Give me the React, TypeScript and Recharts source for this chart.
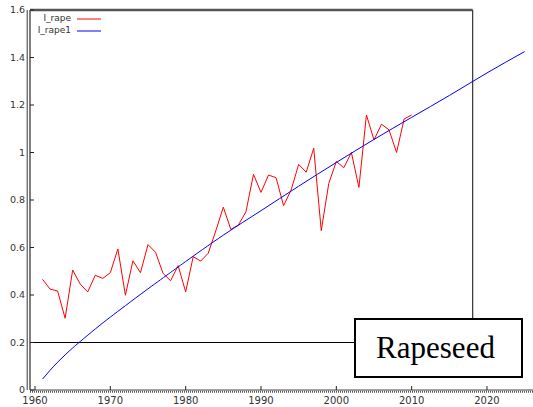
import React from 'react';
import { LineChart, Line, XAxis, YAxis, ReferenceLine } from 'recharts';

const YEARS = [
  1961, 1962, 1963, 1964, 1965, 1966, 1967, 1968, 1969, 1970,
  1971, 1972, 1973, 1974, 1975, 1976, 1977, 1978, 1979, 1980,
  1981, 1982, 1983, 1984, 1985, 1986, 1987, 1988, 1989, 1990,
  1991, 1992, 1993, 1994, 1995, 1996, 1997, 1998, 1999, 2000,
  2001, 2002, 2003, 2004, 2005, 2006, 2007, 2008, 2009, 2010,
];
const I_RAPE = [
  0.466, 0.425, 0.417, 0.302, 0.505, 0.446, 0.413, 0.483, 0.470, 0.494,
  0.594, 0.399, 0.544, 0.494, 0.612, 0.580, 0.491, 0.460, 0.524, 0.413,
  0.561, 0.543, 0.576, 0.670, 0.770, 0.676, 0.695, 0.750, 0.908, 0.832,
  0.905, 0.894, 0.776, 0.842, 0.950, 0.917, 1.018, 0.671, 0.870, 0.962,
  0.936, 1.000, 0.853, 1.158, 1.053, 1.119, 1.095, 1.000, 1.141, 1.158,
];
const FIT_YEARS = [1961, 1962, 1963, 1964, 1965, 1966, 1968, 1970, 1972, 1975, 1978, 1980, 1985, 1990, 1995, 2000, 2005, 2010, 2015, 2020, 2025];
const I_RAPE1 = [0.046, 0.083, 0.117, 0.148, 0.177, 0.204, 0.257, 0.307, 0.355, 0.426, 0.495, 0.541, 0.652, 0.755, 0.858, 0.958, 1.055, 1.148, 1.24, 1.335, 1.425];

const SERIES = [
  { name: 'I_rape', color: '#ff0000' },
  { name: 'I_rape1', color: '#0000ff' },
];

const X_TICKS = [1960, 1970, 1980, 1990, 2000, 2010, 2020];
const Y_TICKS = [0, 0.2, 0.4, 0.6, 0.8, 1, 1.2, 1.4, 1.6];

const X_MIN = 1959.336;
const X_MAX = 2026.11;
const FRAME_X = 2018.1;
const FRAME_Y = 0.2;

const rapeData = YEARS.map((year, i) => ({ year, value: I_RAPE[i] }));
const fitData = FIT_YEARS.map((year, i) => ({ year, value: I_RAPE1[i] }));

const FONT = '"DejaVu Sans", sans-serif';

const BottomTick = (props: any) => {
  const { x, y, payload } = props;
  return (
    <g>
      <line x1={x} x2={x} y1={y - 4} y2={y - 8} stroke="#222" strokeWidth={1} />
      <text x={x} y={y} dy={10} textAnchor="middle" fontSize={10} fill="#333" fontFamily={FONT}>
        {payload.value}
      </text>
    </g>
  );
};

const TopTick = (props: any) => {
  const { x, y } = props;
  return <line x1={x} x2={x} y1={y} y2={y + 4} stroke="#222" strokeWidth={1} />;
};

const LeftTick = (props: any) => {
  const { x, y, payload } = props;
  return (
    <g>
      <line x1={x + 5} x2={x + 9} y1={y} y2={y} stroke="#222" strokeWidth={1} />
      <text x={x} y={y} dy={3} textAnchor="end" fontSize={9.5} fill="#333" fontFamily={FONT}>
        {String(payload.value)}
      </text>
    </g>
  );
};

export default function App() {
  return (
    <div style={{ position: 'relative', width: 533, height: 407, background: '#fff' }}>
      <style>{'body{margin:0}'}</style>
      <LineChart width={533} height={407} margin={{ top: 10, right: 0, bottom: 0, left: 0 }}>
        <XAxis
          xAxisId="bottom"
          dataKey="year"
          type="number"
          domain={[X_MIN, X_MAX]}
          ticks={X_TICKS}
          allowDataOverflow
          height={17}
          tickSize={0}
          tickMargin={4}
          tick={<BottomTick />}
          axisLine={{ stroke: '#444', strokeWidth: 1 }}
        />
        <XAxis
          xAxisId="top"
          orientation="top"
          dataKey="year"
          type="number"
          domain={[X_MIN, X_MAX]}
          ticks={X_TICKS}
          allowDataOverflow
          height={0}
          tickSize={0}
          tickMargin={0}
          tick={<TopTick />}
          axisLine={{ stroke: '#444', strokeWidth: 1 }}
        />
        <YAxis
          type="number"
          domain={[0, 1.6]}
          ticks={Y_TICKS}
          width={30}
          tickSize={0}
          tickMargin={5}
          tick={<LeftTick />}
          axisLine={{ stroke: '#555', strokeWidth: 1.5 }}
        />
        <ReferenceLine xAxisId="bottom" x={X_MIN - 0.36} stroke="#777" strokeWidth={1.5} ifOverflow="visible" />
        <ReferenceLine xAxisId="bottom" y={-0.007} stroke="#555" strokeWidth={2} strokeDasharray="1 1" ifOverflow="visible" />
        <ReferenceLine
          xAxisId="bottom"
          segment={[{ x: X_MIN, y: 1.6 }, { x: FRAME_X, y: 1.6 }]}
          stroke="#555"
          strokeWidth={2.5}
          ifOverflow="visible"
        />
        <ReferenceLine
          xAxisId="bottom"
          segment={[{ x: X_MIN, y: FRAME_Y }, { x: FRAME_X, y: FRAME_Y }]}
          stroke="#000"
          strokeWidth={1}
        />
        <ReferenceLine
          xAxisId="bottom"
          segment={[{ x: FRAME_X, y: FRAME_Y }, { x: FRAME_X, y: 1.6 }]}
          stroke="#333"
          strokeWidth={1.2}
        />
        <Line
          xAxisId="bottom"
          data={rapeData}
          dataKey="value"
          name={SERIES[0].name}
          type="linear"
          stroke={SERIES[0].color}
          strokeWidth={1}
          dot={false}
          isAnimationActive={false}
        />
        <Line
          xAxisId="bottom"
          data={fitData}
          dataKey="value"
          name={SERIES[1].name}
          type="natural"
          stroke={SERIES[1].color}
          strokeWidth={1}
          dot={false}
          isAnimationActive={false}
        />
      </LineChart>
      <div
        style={{
          position: 'absolute',
          left: 0,
          top: 13,
          width: 101,
          fontFamily: FONT,
          fontSize: 9,
          color: '#333',
          lineHeight: '11px',
        }}
      >
        {SERIES.map((item) => (
          <div key={item.name} style={{ display: 'flex', alignItems: 'center', justifyContent: 'flex-end', height: 11.4 }}>
            <span>{item.name}</span>
            <svg width={30} height={11} style={{ display: 'block' }}>
              <line x1={6} x2={30} y1={6} y2={6} stroke={item.color} strokeWidth={1} />
            </svg>
          </div>
        ))}
      </div>
      <div
        style={{
          position: 'absolute',
          left: 354,
          top: 318,
          width: 159,
          height: 56,
          border: '2.5px solid #000',
          background: '#fff',
          display: 'flex',
          alignItems: 'center',
          justifyContent: 'center',
          fontFamily: '"Liberation Serif", serif',
          fontSize: 31,
          color: '#000',
          paddingRight: 6,
          boxSizing: 'content-box',
        }}
      >
        Rapeseed
      </div>
    </div>
  );
}
